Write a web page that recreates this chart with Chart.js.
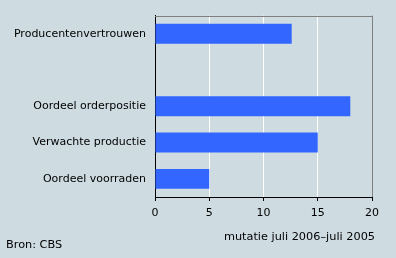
<!DOCTYPE html>
<html><head><meta charset="utf-8">
<script src="https://cdn.jsdelivr.net/npm/chart.js@4"></script>
<style>
html,body{margin:0;padding:0;background:#cedce2;}
#wrap{position:relative;width:396px;height:258px;}
</style></head>
<body><div id="wrap"><canvas id="c" width="396" height="258"></canvas></div>
<script>
const categories = ['Producentenvertrouwen', '', 'Oordeel orderpositie', 'Verwachte productie', 'Oordeel voorraden'];
const values = [12.6, null, 18, 15, 5];
const xTicks = [0, 5, 10, 15, 20];
const axisTitle = 'mutatie juli 2006\u2013juli 2005';
const source = 'Bron: CBS';

const FONT = 'DejaVu Sans';
const extras = {
  id: 'extras',
  afterDraw(chart) {
    const ctx = chart.ctx, a = chart.chartArea;
    ctx.save();
    ctx.strokeStyle = '#808080';
    ctx.lineWidth = 1;
    ctx.beginPath();
    ctx.moveTo(a.left, Math.round(a.top) + 0.5);
    ctx.lineTo(a.right + 0.5, Math.round(a.top) + 0.5);
    ctx.stroke();
    ctx.fillStyle = '#000';
    ctx.font = '11.3px "' + FONT + '"';
    ctx.textBaseline = 'middle';
    ctx.textAlign = 'right';
    ctx.fillText(axisTitle, 375, 237);
    ctx.textAlign = 'left';
    ctx.fillText(source, 6, 245);
    ctx.restore();
  }
};

new Chart(document.getElementById('c'), {
  type: 'bar',
  data: { labels: categories, datasets: [{ data: values, backgroundColor: '#3366ff', barPercentage: 0.55, categoryPercentage: 1 }] },
  options: {
    indexAxis: 'y', responsive: false, animation: false,
    layout: { padding: { left: 0, right: 24, top: 15, bottom: 0 } },
    plugins: { legend: { display: false }, tooltip: { enabled: false } },
    scales: {
      x: {
        min: 0, max: 20,
        afterBuildTicks(s) { s.ticks = xTicks.map(v => ({ value: v })); },
        afterFit(s) { s.height = 61; },
        border: { color: '#000', width: 1 },
        grid: {
          color: c => c.tick && c.tick.value === 20 ? '#808080' : (c.tick && c.tick.value === 0 ? '#000' : '#ffffff'),
          tickColor: '#000', tickLength: 4, lineWidth: 1
        },
        ticks: { color: '#000', font: { family: FONT, size: 11 }, padding: 6, maxRotation: 0 }
      },
      y: {
        afterFit(s) { s.width = 155; },
        border: { color: '#000', width: 1 },
        grid: { display: false, drawTicks: false },
        ticks: { color: '#000', font: { family: FONT, size: 11 }, padding: 9 }
      }
    }
  },
  plugins: [extras]
});
</script></body></html>
